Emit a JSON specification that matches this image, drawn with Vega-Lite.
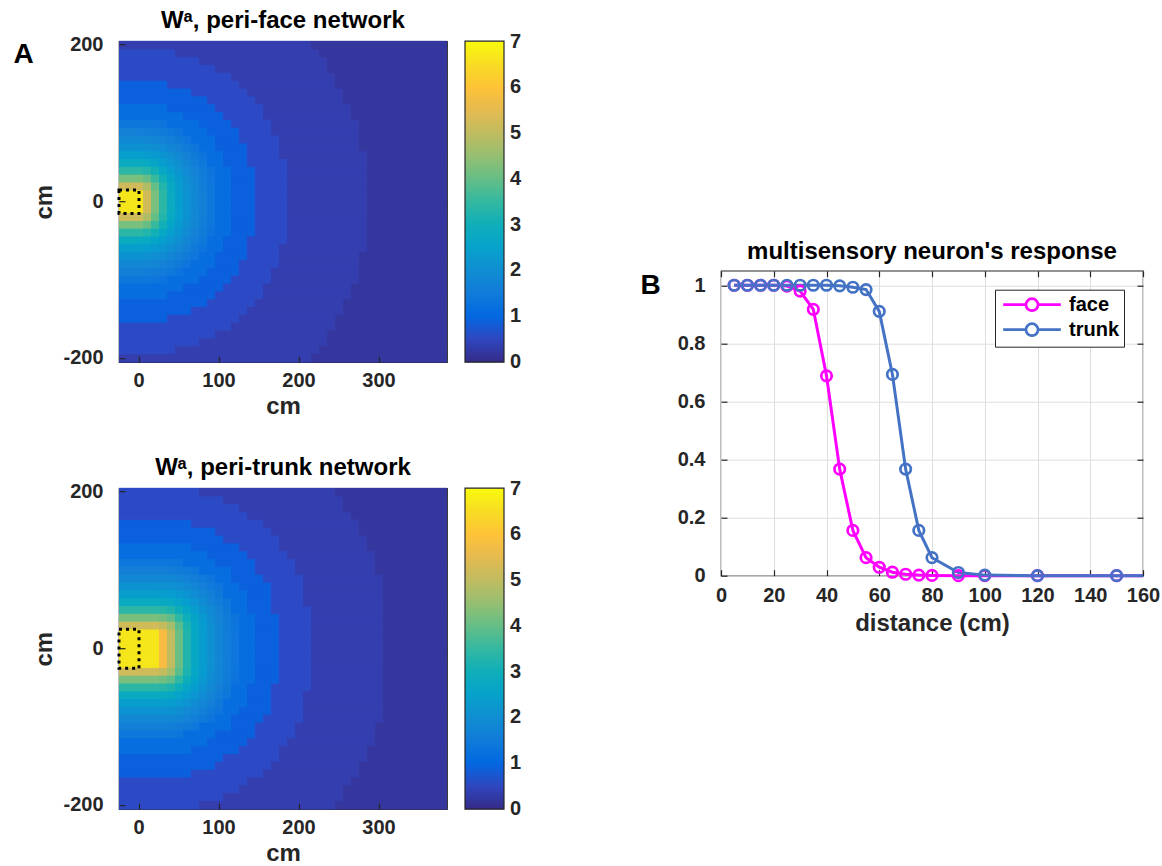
{
"$schema": "https://vega.github.io/schema/vega-lite/v6.json",
"background": "white",
"padding": {"left": 12, "top": 8, "right": 4, "bottom": 2},
"config": {
  "font": "Liberation Sans",
  "view": {"stroke": "#262626", "strokeWidth": 1.2},
  "axis": {"labelFont": "Liberation Sans", "labelFontSize": 20, "labelFontWeight": "bold", "labelColor": "#262626", "titleFont": "Liberation Sans", "titleFontSize": 24, "titleFontWeight": "bold", "titleColor": "#262626", "domain": false, "tickSize": -6, "tickColor": "#262626", "tickWidth": 1.2, "grid": false, "labelAngle": 0, "labelFlush": false},
  "title": {"font": "Liberation Sans", "fontSize": 24, "fontWeight": "bold", "color": "#000000", "anchor": "middle", "baseline": "alphabetic"},
  "legend": {"labelFont": "Liberation Sans", "labelFontWeight": "bold", "labelColor": "#262626"}
},
"center": true,
"spacing": 116,
"resolve": {"scale": {"color": "independent"}, "legend": {"color": "independent"}},
"hconcat": [
{
  "spacing": 35,
  "resolve": {"scale": {"color": "independent"}, "legend": {"color": "independent"}},
  "vconcat": [
  {
    "width": 328, "height": 321,
    "title": {"text": "Wᵃ, peri-face network", "offset": 2},
    "layer": [
    {
      "data": {"values": [
{"y":[-10,0,10],"x":[-20,-10,0,10,20,30,40,50,60,70,80,90,100,110,120,130,140,150,160,170,180,190,200,210,220,230,240,250,260,270,280,290,300,310,320,330,340,350,360,370,380],"v":[6.7,6.7,6.7,5.2,4.2,3.4,2.8,2.4,2.1,1.85,1.6,1.4,1.15,1.15,0.85,0.85,0.85,0.55,0.55,0.55,0.55,0.35,0.35,0.35,0.35,0.35,0.35,0.35,0.35,0.35,0.35,0.2,0.2,0.2,0.2,0.2,0.2,0.2,0.2,0.2,0.2]},
{"y":[-20,20],"x":[-20,-10,0,10,20,30,40,50,60,70,80,90,100,110,120,130,140,150,160,170,180,190,200,210,220,230,240,250,260,270,280,290,300,310,320,330,340,350,360,370,380],"v":[5.2,5.2,5.2,4.8,4.0,3.3,2.75,2.37,2.08,1.83,1.59,1.39,1.15,1.15,0.85,0.85,0.85,0.55,0.55,0.55,0.55,0.35,0.35,0.35,0.35,0.35,0.35,0.35,0.35,0.35,0.35,0.2,0.2,0.2,0.2,0.2,0.2,0.2,0.2,0.2,0.2]},
{"y":[-30,30],"x":[-20,-10,0,10,20,30,40,50,60,70,80,90,100,110,120,130,140,150,160,170,180,190,200,210,220,230,240,250,260,270,280,290,300,310,320,330,340,350,360,370,380],"v":[4.2,4.2,4.2,4.01,3.54,3.04,2.61,2.28,2.02,1.78,1.55,1.36,1.15,1.15,0.85,0.85,0.85,0.55,0.55,0.55,0.55,0.35,0.35,0.35,0.35,0.35,0.35,0.35,0.35,0.35,0.35,0.2,0.2,0.2,0.2,0.2,0.2,0.2,0.2,0.2,0.2]},
{"y":[-40,40],"x":[-20,-10,0,10,20,30,40,50,60,70,80,90,100,110,120,130,140,150,160,170,180,190,200,210,220,230,240,250,260,270,280,290,300,310,320,330,340,350,360,370,380],"v":[3.4,3.4,3.4,3.3,3.04,2.7,2.4,2.15,1.92,1.7,1.49,1.3,1.15,1.15,0.85,0.85,0.85,0.55,0.55,0.55,0.55,0.35,0.35,0.35,0.35,0.35,0.35,0.35,0.35,0.35,0.35,0.2,0.2,0.2,0.2,0.2,0.2,0.2,0.2,0.2,0.2]},
{"y":[-50,50],"x":[-20,-10,0,10,20,30,40,50,60,70,80,90,100,110,120,130,140,150,160,170,180,190,200,210,220,230,240,250,260,270,280,290,300,310,320,330,340,350,360,370,380],"v":[2.8,2.8,2.8,2.75,2.61,2.4,2.2,2.0,1.8,1.59,1.41,1.15,1.15,0.85,0.85,0.85,0.55,0.55,0.55,0.55,0.55,0.35,0.35,0.35,0.35,0.35,0.35,0.35,0.35,0.35,0.35,0.2,0.2,0.2,0.2,0.2,0.2,0.2,0.2,0.2,0.2]},
{"y":[-60,60],"x":[-20,-10,0,10,20,30,40,50,60,70,80,90,100,110,120,130,140,150,160,170,180,190,200,210,220,230,240,250,260,270,280,290,300,310,320,330,340,350,360,370,380],"v":[2.4,2.4,2.4,2.37,2.28,2.15,2.0,1.83,1.65,1.48,1.31,1.15,1.15,0.85,0.85,0.85,0.55,0.55,0.55,0.55,0.35,0.35,0.35,0.35,0.35,0.35,0.35,0.35,0.35,0.35,0.35,0.2,0.2,0.2,0.2,0.2,0.2,0.2,0.2,0.2,0.2]},
{"y":[-70,70],"x":[-20,-10,0,10,20,30,40,50,60,70,80,90,100,110,120,130,140,150,160,170,180,190,200,210,220,230,240,250,260,270,280,290,300,310,320,330,340,350,360,370,380],"v":[2.1,2.1,2.1,2.08,2.02,1.92,1.8,1.65,1.5,1.36,1.15,1.15,0.85,0.85,0.85,0.85,0.55,0.55,0.55,0.55,0.35,0.35,0.35,0.35,0.35,0.35,0.35,0.35,0.35,0.35,0.2,0.2,0.2,0.2,0.2,0.2,0.2,0.2,0.2,0.2,0.2]},
{"y":[-80,80],"x":[-20,-10,0,10,20,30,40,50,60,70,80,90,100,110,120,130,140,150,160,170,180,190,200,210,220,230,240,250,260,270,280,290,300,310,320,330,340,350,360,370,380],"v":[1.85,1.85,1.85,1.83,1.78,1.7,1.59,1.48,1.36,1.15,1.15,1.15,0.85,0.85,0.85,0.55,0.55,0.55,0.55,0.55,0.35,0.35,0.35,0.35,0.35,0.35,0.35,0.35,0.35,0.35,0.2,0.2,0.2,0.2,0.2,0.2,0.2,0.2,0.2,0.2,0.2]},
{"y":[-90,90],"x":[-20,-10,0,10,20,30,40,50,60,70,80,90,100,110,120,130,140,150,160,170,180,190,200,210,220,230,240,250,260,270,280,290,300,310,320,330,340,350,360,370,380],"v":[1.6,1.6,1.6,1.59,1.55,1.49,1.41,1.31,1.15,1.15,1.15,0.85,0.85,0.85,0.85,0.55,0.55,0.55,0.55,0.35,0.35,0.35,0.35,0.35,0.35,0.35,0.35,0.35,0.35,0.35,0.2,0.2,0.2,0.2,0.2,0.2,0.2,0.2,0.2,0.2,0.2]},
{"y":[-100,100],"x":[-20,-10,0,10,20,30,40,50,60,70,80,90,100,110,120,130,140,150,160,170,180,190,200,210,220,230,240,250,260,270,280,290,300,310,320,330,340,350,360,370,380],"v":[1.4,1.4,1.4,1.39,1.36,1.3,1.15,1.15,1.15,1.15,0.85,0.85,0.85,0.85,0.55,0.55,0.55,0.55,0.55,0.35,0.35,0.35,0.35,0.35,0.35,0.35,0.35,0.35,0.35,0.35,0.2,0.2,0.2,0.2,0.2,0.2,0.2,0.2,0.2,0.2,0.2]},
{"y":[-110,110],"x":[-20,-10,0,10,20,30,40,50,60,70,80,90,100,110,120,130,140,150,160,170,180,190,200,210,220,230,240,250,260,270,280,290,300,310,320,330,340,350,360,370,380],"v":[1.15,1.15,1.15,1.15,1.15,1.15,1.15,1.15,0.85,0.85,0.85,0.85,0.85,0.55,0.55,0.55,0.55,0.55,0.35,0.35,0.35,0.35,0.35,0.35,0.35,0.35,0.35,0.35,0.35,0.2,0.2,0.2,0.2,0.2,0.2,0.2,0.2,0.2,0.2,0.2,0.2]},
{"y":[-120,120],"x":[-20,-10,0,10,20,30,40,50,60,70,80,90,100,110,120,130,140,150,160,170,180,190,200,210,220,230,240,250,260,270,280,290,300,310,320,330,340,350,360,370,380],"v":[1.15,1.15,1.15,1.15,1.15,1.15,0.85,0.85,0.85,0.85,0.85,0.85,0.55,0.55,0.55,0.55,0.55,0.55,0.35,0.35,0.35,0.35,0.35,0.35,0.35,0.35,0.35,0.35,0.35,0.2,0.2,0.2,0.2,0.2,0.2,0.2,0.2,0.2,0.2,0.2,0.2]},
{"y":[-130,130],"x":[-20,-10,0,10,20,30,40,50,60,70,80,90,100,110,120,130,140,150,160,170,180,190,200,210,220,230,240,250,260,270,280,290,300,310,320,330,340,350,360,370,380],"v":[0.85,0.85,0.85,0.85,0.85,0.85,0.85,0.85,0.85,0.85,0.85,0.55,0.55,0.55,0.55,0.55,0.55,0.35,0.35,0.35,0.35,0.35,0.35,0.35,0.35,0.35,0.35,0.35,0.2,0.2,0.2,0.2,0.2,0.2,0.2,0.2,0.2,0.2,0.2,0.2,0.2]},
{"y":[-140,140],"x":[-20,-10,0,10,20,30,40,50,60,70,80,90,100,110,120,130,140,150,160,170,180,190,200,210,220,230,240,250,260,270,280,290,300,310,320,330,340,350,360,370,380],"v":[0.85,0.85,0.85,0.85,0.85,0.85,0.85,0.85,0.85,0.55,0.55,0.55,0.55,0.55,0.55,0.55,0.35,0.35,0.35,0.35,0.35,0.35,0.35,0.35,0.35,0.35,0.35,0.35,0.2,0.2,0.2,0.2,0.2,0.2,0.2,0.2,0.2,0.2,0.2,0.2,0.2]},
{"y":[-150,150],"x":[-20,-10,0,10,20,30,40,50,60,70,80,90,100,110,120,130,140,150,160,170,180,190,200,210,220,230,240,250,260,270,280,290,300,310,320,330,340,350,360,370,380],"v":[0.85,0.85,0.85,0.85,0.85,0.85,0.55,0.55,0.55,0.55,0.55,0.55,0.55,0.55,0.55,0.35,0.35,0.35,0.35,0.35,0.35,0.35,0.35,0.35,0.35,0.35,0.35,0.2,0.2,0.2,0.2,0.2,0.2,0.2,0.2,0.2,0.2,0.2,0.2,0.2,0.2]},
{"y":[-160,160],"x":[-20,-10,0,10,20,30,40,50,60,70,80,90,100,110,120,130,140,150,160,170,180,190,200,210,220,230,240,250,260,270,280,290,300,310,320,330,340,350,360,370,380],"v":[0.55,0.55,0.55,0.55,0.55,0.55,0.55,0.55,0.55,0.55,0.55,0.55,0.55,0.55,0.35,0.35,0.35,0.35,0.35,0.35,0.35,0.35,0.35,0.35,0.35,0.35,0.35,0.2,0.2,0.2,0.2,0.2,0.2,0.2,0.2,0.2,0.2,0.2,0.2,0.2,0.2]},
{"y":[-170,170],"x":[-20,-10,0,10,20,30,40,50,60,70,80,90,100,110,120,130,140,150,160,170,180,190,200,210,220,230,240,250,260,270,280,290,300,310,320,330,340,350,360,370,380],"v":[0.55,0.55,0.55,0.55,0.55,0.55,0.55,0.55,0.55,0.55,0.55,0.55,0.35,0.35,0.35,0.35,0.35,0.35,0.35,0.35,0.35,0.35,0.35,0.35,0.35,0.35,0.2,0.2,0.2,0.2,0.2,0.2,0.2,0.2,0.2,0.2,0.2,0.2,0.2,0.2,0.2]},
{"y":[-180,180],"x":[-20,-10,0,10,20,30,40,50,60,70,80,90,100,110,120,130,140,150,160,170,180,190,200,210,220,230,240,250,260,270,280,290,300,310,320,330,340,350,360,370,380],"v":[0.55,0.55,0.55,0.55,0.55,0.55,0.55,0.55,0.55,0.55,0.35,0.35,0.35,0.35,0.35,0.35,0.35,0.35,0.35,0.35,0.35,0.35,0.35,0.35,0.35,0.35,0.2,0.2,0.2,0.2,0.2,0.2,0.2,0.2,0.2,0.2,0.2,0.2,0.2,0.2,0.2]},
{"y":[-190,190],"x":[-20,-10,0,10,20,30,40,50,60,70,80,90,100,110,120,130,140,150,160,170,180,190,200,210,220,230,240,250,260,270,280,290,300,310,320,330,340,350,360,370,380],"v":[0.55,0.55,0.55,0.55,0.55,0.55,0.55,0.35,0.35,0.35,0.35,0.35,0.35,0.35,0.35,0.35,0.35,0.35,0.35,0.35,0.35,0.35,0.35,0.35,0.35,0.2,0.2,0.2,0.2,0.2,0.2,0.2,0.2,0.2,0.2,0.2,0.2,0.2,0.2,0.2,0.2]},
{"y":[-200,200],"x":[-20,-10,0,10,20,30,40,50,60,70,80,90,100,110,120,130,140,150,160,170,180,190,200,210,220,230,240,250,260,270,280,290,300,310,320,330,340,350,360,370,380],"v":[0.35,0.35,0.35,0.35,0.35,0.35,0.35,0.35,0.35,0.35,0.35,0.35,0.35,0.35,0.35,0.35,0.35,0.35,0.35,0.35,0.35,0.35,0.35,0.35,0.2,0.2,0.2,0.2,0.2,0.2,0.2,0.2,0.2,0.2,0.2,0.2,0.2,0.2,0.2,0.2,0.2]}
      ]},
      "transform": [{"flatten": ["x", "v"]}, {"flatten": ["y"]}],
      "mark": {"type": "rect", "height": {"band": 1.1}},
      "encoding": {
        "x": {"field": "x", "type": "ordinal", "scale": {"paddingInner": 0, "paddingOuter": 0}, "axis": {"values": [0, 100, 200, 300], "title": "cm", "labelPadding": 14, "titlePadding": 4}},
        "y": {"field": "y", "type": "ordinal", "sort": "descending", "scale": {"paddingInner": 0, "paddingOuter": 0}, "axis": {"values": [200, 0, -200], "title": "cm", "labelPadding": 22, "titlePadding": 6}},
        "color": {"field": "v", "type": "quantitative", "scale": {"interpolate": "rgb", "domain": [-0.01,0.3333,0.5556,0.7778,1,1.3333,1.6667,2,2.3333,2.6667,3,3.3333,3.6667,4,4.3333,4.6667,5,5.3333,5.6667,5.8889,6.1111,6.3333,6.6667,7.01], "range": ["#352a87","#353dad","#2c4ac7","#0f5cdd","#0268e1","#0d75dc","#1481d6","#108ed2","#079ccf","#06a7c6","#0faeb9","#25b5a9","#42bb98","#65be86","#87bf77","#a5be6b","#c0bc60","#d9ba56","#f1b94a","#fdbe3d","#fec832","#fad32a","#f5e41d","#f9fb0e"]},
          "legend": {"type": "gradient", "title": null, "orient": "right", "offset": 17, "direction": "vertical", "gradientLength": 321, "gradientThickness": 39, "values": [0,1,2,3,4,5,6,7], "labelFontSize": 20, "labelFontWeight": "bold", "labelOffset": 6, "labelBaseline": "middle", "labelOverlap": false, "gradientStrokeColor": "#262626", "gradientStrokeWidth": 1.2}}
      }
    },
    {
      "data": {"values": [{"x1": -25, "x2": 0, "y1": -15, "y2": 15}]},
      "mark": {"type": "rect", "filled": false, "stroke": "#000000", "strokeWidth": 3, "strokeDash": [3, 4]},
      "encoding": {
        "x": {"field": "x1", "type": "quantitative", "scale": {"domain": [-25, 385], "nice": false, "zero": false}, "axis": {"orient": "top", "values": [0, 100, 200, 300], "labels": false, "title": "A", "titleFontSize": 28, "titleAngle": 0, "titleX": -106, "titleY": 21, "titleAlign": "left", "titleBaseline": "alphabetic", "titleColor": "#000000"}},
        "x2": {"field": "x2"},
        "y": {"field": "y1", "type": "quantitative", "scale": {"domain": [-205, 205], "nice": false, "zero": false}, "axis": {"orient": "right", "values": [-200, 0, 200], "labels": false, "title": null}},
        "y2": {"field": "y2"}
      }
    }
    ],
    "resolve": {"scale": {"x": "independent", "y": "independent"}}
  },
  {
    "width": 328, "height": 321,
    "title": {"text": "Wᵃ, peri-trunk network", "offset": 2},
    "layer": [
    {
      "data": {"values": [
{"y":[-20,-10,0,10,20],"x":[-20,-10,0,10,20,30,40,50,60,70,80,90,100,110,120,130,140,150,160,170,180,190,200,210,220,230,240,250,260,270,280,290,300,310,320,330,340,350,360,370,380],"v":[6.7,6.7,6.7,6.7,6.7,5.8,5.0,4.04,3.28,2.72,2.34,2.05,1.8,1.56,1.36,1.15,1.15,0.85,0.85,0.85,0.55,0.55,0.55,0.55,0.35,0.35,0.35,0.35,0.35,0.35,0.35,0.35,0.35,0.2,0.2,0.2,0.2,0.2,0.2,0.2,0.2]},
{"y":[-30,30],"x":[-20,-10,0,10,20,30,40,50,60,70,80,90,100,110,120,130,140,150,160,170,180,190,200,210,220,230,240,250,260,270,280,290,300,310,320,330,340,350,360,370,380],"v":[5.2,5.2,5.2,5.2,5.2,5.03,4.64,3.87,3.19,2.67,2.31,2.03,1.78,1.55,1.35,1.15,1.15,0.85,0.85,0.85,0.55,0.55,0.55,0.55,0.35,0.35,0.35,0.35,0.35,0.35,0.35,0.35,0.35,0.2,0.2,0.2,0.2,0.2,0.2,0.2,0.2]},
{"y":[-40,40],"x":[-20,-10,0,10,20,30,40,50,60,70,80,90,100,110,120,130,140,150,160,170,180,190,200,210,220,230,240,250,260,270,280,290,300,310,320,330,340,350,360,370,380],"v":[4.2,4.2,4.2,4.2,4.2,4.13,3.93,3.42,2.94,2.54,2.23,1.97,1.73,1.51,1.32,1.15,1.15,0.85,0.85,0.85,0.55,0.55,0.55,0.55,0.35,0.35,0.35,0.35,0.35,0.35,0.35,0.35,0.35,0.2,0.2,0.2,0.2,0.2,0.2,0.2,0.2]},
{"y":[-50,50],"x":[-20,-10,0,10,20,30,40,50,60,70,80,90,100,110,120,130,140,150,160,170,180,190,200,210,220,230,240,250,260,270,280,290,300,310,320,330,340,350,360,370,380],"v":[3.4,3.4,3.4,3.4,3.4,3.36,3.26,2.97,2.65,2.35,2.1,1.88,1.65,1.45,1.15,1.15,0.85,0.85,0.85,0.55,0.55,0.55,0.55,0.55,0.35,0.35,0.35,0.35,0.35,0.35,0.35,0.35,0.35,0.2,0.2,0.2,0.2,0.2,0.2,0.2,0.2]},
{"y":[-60,60],"x":[-20,-10,0,10,20,30,40,50,60,70,80,90,100,110,120,130,140,150,160,170,180,190,200,210,220,230,240,250,260,270,280,290,300,310,320,330,340,350,360,370,380],"v":[2.8,2.8,2.8,2.8,2.8,2.78,2.73,2.57,2.36,2.16,1.96,1.75,1.55,1.38,1.15,1.15,0.85,0.85,0.85,0.55,0.55,0.55,0.55,0.35,0.35,0.35,0.35,0.35,0.35,0.35,0.35,0.35,0.35,0.2,0.2,0.2,0.2,0.2,0.2,0.2,0.2]},
{"y":[-70,70],"x":[-20,-10,0,10,20,30,40,50,60,70,80,90,100,110,120,130,140,150,160,170,180,190,200,210,220,230,240,250,260,270,280,290,300,310,320,330,340,350,360,370,380],"v":[2.4,2.4,2.4,2.4,2.4,2.39,2.36,2.26,2.12,1.97,1.8,1.61,1.45,1.15,1.15,1.15,0.85,0.85,0.85,0.55,0.55,0.55,0.55,0.35,0.35,0.35,0.35,0.35,0.35,0.35,0.35,0.35,0.35,0.2,0.2,0.2,0.2,0.2,0.2,0.2,0.2]},
{"y":[-80,80],"x":[-20,-10,0,10,20,30,40,50,60,70,80,90,100,110,120,130,140,150,160,170,180,190,200,210,220,230,240,250,260,270,280,290,300,310,320,330,340,350,360,370,380],"v":[2.1,2.1,2.1,2.1,2.1,2.09,2.07,2.0,1.9,1.77,1.61,1.47,1.33,1.15,1.15,0.85,0.85,0.85,0.85,0.55,0.55,0.55,0.55,0.35,0.35,0.35,0.35,0.35,0.35,0.35,0.35,0.35,0.35,0.2,0.2,0.2,0.2,0.2,0.2,0.2,0.2]},
{"y":[-90,90],"x":[-20,-10,0,10,20,30,40,50,60,70,80,90,100,110,120,130,140,150,160,170,180,190,200,210,220,230,240,250,260,270,280,290,300,310,320,330,340,350,360,370,380],"v":[1.85,1.85,1.85,1.85,1.85,1.84,1.82,1.77,1.68,1.57,1.46,1.33,1.15,1.15,0.85,0.85,0.85,0.85,0.55,0.55,0.55,0.55,0.55,0.35,0.35,0.35,0.35,0.35,0.35,0.35,0.35,0.35,0.35,0.2,0.2,0.2,0.2,0.2,0.2,0.2,0.2]},
{"y":[-100,100],"x":[-20,-10,0,10,20,30,40,50,60,70,80,90,100,110,120,130,140,150,160,170,180,190,200,210,220,230,240,250,260,270,280,290,300,310,320,330,340,350,360,370,380],"v":[1.6,1.6,1.6,1.6,1.6,1.6,1.58,1.54,1.48,1.39,1.15,1.15,1.15,1.15,0.85,0.85,0.85,0.55,0.55,0.55,0.55,0.55,0.35,0.35,0.35,0.35,0.35,0.35,0.35,0.35,0.35,0.35,0.2,0.2,0.2,0.2,0.2,0.2,0.2,0.2,0.2]},
{"y":[-110,110],"x":[-20,-10,0,10,20,30,40,50,60,70,80,90,100,110,120,130,140,150,160,170,180,190,200,210,220,230,240,250,260,270,280,290,300,310,320,330,340,350,360,370,380],"v":[1.4,1.4,1.4,1.4,1.4,1.4,1.38,1.35,1.15,1.15,1.15,1.15,0.85,0.85,0.85,0.85,0.85,0.55,0.55,0.55,0.55,0.55,0.35,0.35,0.35,0.35,0.35,0.35,0.35,0.35,0.35,0.35,0.2,0.2,0.2,0.2,0.2,0.2,0.2,0.2,0.2]},
{"y":[-120,120],"x":[-20,-10,0,10,20,30,40,50,60,70,80,90,100,110,120,130,140,150,160,170,180,190,200,210,220,230,240,250,260,270,280,290,300,310,320,330,340,350,360,370,380],"v":[1.15,1.15,1.15,1.15,1.15,1.15,1.15,1.15,1.15,1.15,1.15,0.85,0.85,0.85,0.85,0.85,0.55,0.55,0.55,0.55,0.55,0.35,0.35,0.35,0.35,0.35,0.35,0.35,0.35,0.35,0.35,0.35,0.2,0.2,0.2,0.2,0.2,0.2,0.2,0.2,0.2]},
{"y":[-130,130],"x":[-20,-10,0,10,20,30,40,50,60,70,80,90,100,110,120,130,140,150,160,170,180,190,200,210,220,230,240,250,260,270,280,290,300,310,320,330,340,350,360,370,380],"v":[1.15,1.15,1.15,1.15,1.15,1.15,1.15,1.15,1.15,0.85,0.85,0.85,0.85,0.85,0.85,0.55,0.55,0.55,0.55,0.55,0.35,0.35,0.35,0.35,0.35,0.35,0.35,0.35,0.35,0.35,0.35,0.2,0.2,0.2,0.2,0.2,0.2,0.2,0.2,0.2,0.2]},
{"y":[-140,140],"x":[-20,-10,0,10,20,30,40,50,60,70,80,90,100,110,120,130,140,150,160,170,180,190,200,210,220,230,240,250,260,270,280,290,300,310,320,330,340,350,360,370,380],"v":[0.85,0.85,0.85,0.85,0.85,0.85,0.85,0.85,0.85,0.85,0.85,0.85,0.85,0.55,0.55,0.55,0.55,0.55,0.55,0.55,0.35,0.35,0.35,0.35,0.35,0.35,0.35,0.35,0.35,0.35,0.35,0.2,0.2,0.2,0.2,0.2,0.2,0.2,0.2,0.2,0.2]},
{"y":[-150,150],"x":[-20,-10,0,10,20,30,40,50,60,70,80,90,100,110,120,130,140,150,160,170,180,190,200,210,220,230,240,250,260,270,280,290,300,310,320,330,340,350,360,370,380],"v":[0.85,0.85,0.85,0.85,0.85,0.85,0.85,0.85,0.85,0.85,0.85,0.85,0.55,0.55,0.55,0.55,0.55,0.55,0.55,0.35,0.35,0.35,0.35,0.35,0.35,0.35,0.35,0.35,0.35,0.35,0.2,0.2,0.2,0.2,0.2,0.2,0.2,0.2,0.2,0.2,0.2]},
{"y":[-160,160],"x":[-20,-10,0,10,20,30,40,50,60,70,80,90,100,110,120,130,140,150,160,170,180,190,200,210,220,230,240,250,260,270,280,290,300,310,320,330,340,350,360,370,380],"v":[0.85,0.85,0.85,0.85,0.85,0.85,0.85,0.85,0.85,0.55,0.55,0.55,0.55,0.55,0.55,0.55,0.55,0.55,0.35,0.35,0.35,0.35,0.35,0.35,0.35,0.35,0.35,0.35,0.35,0.35,0.2,0.2,0.2,0.2,0.2,0.2,0.2,0.2,0.2,0.2,0.2]},
{"y":[-170,170],"x":[-20,-10,0,10,20,30,40,50,60,70,80,90,100,110,120,130,140,150,160,170,180,190,200,210,220,230,240,250,260,270,280,290,300,310,320,330,340,350,360,370,380],"v":[0.55,0.55,0.55,0.55,0.55,0.55,0.55,0.55,0.55,0.55,0.55,0.55,0.55,0.55,0.55,0.55,0.35,0.35,0.35,0.35,0.35,0.35,0.35,0.35,0.35,0.35,0.35,0.35,0.35,0.2,0.2,0.2,0.2,0.2,0.2,0.2,0.2,0.2,0.2,0.2,0.2]},
{"y":[-180,180],"x":[-20,-10,0,10,20,30,40,50,60,70,80,90,100,110,120,130,140,150,160,170,180,190,200,210,220,230,240,250,260,270,280,290,300,310,320,330,340,350,360,370,380],"v":[0.55,0.55,0.55,0.55,0.55,0.55,0.55,0.55,0.55,0.55,0.55,0.55,0.55,0.55,0.55,0.35,0.35,0.35,0.35,0.35,0.35,0.35,0.35,0.35,0.35,0.35,0.35,0.35,0.2,0.2,0.2,0.2,0.2,0.2,0.2,0.2,0.2,0.2,0.2,0.2,0.2]},
{"y":[-190,190],"x":[-20,-10,0,10,20,30,40,50,60,70,80,90,100,110,120,130,140,150,160,170,180,190,200,210,220,230,240,250,260,270,280,290,300,310,320,330,340,350,360,370,380],"v":[0.55,0.55,0.55,0.55,0.55,0.55,0.55,0.55,0.55,0.55,0.55,0.55,0.55,0.35,0.35,0.35,0.35,0.35,0.35,0.35,0.35,0.35,0.35,0.35,0.35,0.35,0.35,0.35,0.2,0.2,0.2,0.2,0.2,0.2,0.2,0.2,0.2,0.2,0.2,0.2,0.2]},
{"y":[-200,200],"x":[-20,-10,0,10,20,30,40,50,60,70,80,90,100,110,120,130,140,150,160,170,180,190,200,210,220,230,240,250,260,270,280,290,300,310,320,330,340,350,360,370,380],"v":[0.55,0.55,0.55,0.55,0.55,0.55,0.55,0.55,0.55,0.55,0.35,0.35,0.35,0.35,0.35,0.35,0.35,0.35,0.35,0.35,0.35,0.35,0.35,0.35,0.35,0.35,0.35,0.2,0.2,0.2,0.2,0.2,0.2,0.2,0.2,0.2,0.2,0.2,0.2,0.2,0.2]}
      ]},
      "transform": [{"flatten": ["x", "v"]}, {"flatten": ["y"]}],
      "mark": {"type": "rect", "height": {"band": 1.1}},
      "encoding": {
        "x": {"field": "x", "type": "ordinal", "scale": {"paddingInner": 0, "paddingOuter": 0}, "axis": {"values": [0, 100, 200, 300], "title": "cm", "labelPadding": 14, "titlePadding": 4}},
        "y": {"field": "y", "type": "ordinal", "sort": "descending", "scale": {"paddingInner": 0, "paddingOuter": 0}, "axis": {"values": [200, 0, -200], "title": "cm", "labelPadding": 22, "titlePadding": 6}},
        "color": {"field": "v", "type": "quantitative", "scale": {"interpolate": "rgb", "domain": [-0.01,0.3333,0.5556,0.7778,1,1.3333,1.6667,2,2.3333,2.6667,3,3.3333,3.6667,4,4.3333,4.6667,5,5.3333,5.6667,5.8889,6.1111,6.3333,6.6667,7.01], "range": ["#352a87","#353dad","#2c4ac7","#0f5cdd","#0268e1","#0d75dc","#1481d6","#108ed2","#079ccf","#06a7c6","#0faeb9","#25b5a9","#42bb98","#65be86","#87bf77","#a5be6b","#c0bc60","#d9ba56","#f1b94a","#fdbe3d","#fec832","#fad32a","#f5e41d","#f9fb0e"]},
          "legend": {"type": "gradient", "title": null, "orient": "right", "offset": 17, "direction": "vertical", "gradientLength": 321, "gradientThickness": 39, "values": [0,1,2,3,4,5,6,7], "labelFontSize": 20, "labelFontWeight": "bold", "labelOffset": 6, "labelBaseline": "middle", "labelOverlap": false, "gradientStrokeColor": "#262626", "gradientStrokeWidth": 1.2}}
      }
    },
    {
      "data": {"values": [{"x1": -25, "x2": 0, "y1": -25, "y2": 25}]},
      "mark": {"type": "rect", "filled": false, "stroke": "#000000", "strokeWidth": 3, "strokeDash": [3, 4]},
      "encoding": {
        "x": {"field": "x1", "type": "quantitative", "scale": {"domain": [-25, 385], "nice": false, "zero": false}, "axis": {"orient": "top", "values": [0, 100, 200, 300], "labels": false, "title": null}},
        "x2": {"field": "x2"},
        "y": {"field": "y1", "type": "quantitative", "scale": {"domain": [-205, 205], "nice": false, "zero": false}, "axis": {"orient": "right", "values": [-200, 0, 200], "labels": false, "title": null}},
        "y2": {"field": "y2"}
      }
    }
    ],
    "resolve": {"scale": {"x": "independent", "y": "independent"}}
  }
  ]
},
{
  "width": 422, "height": 305,
  "title": {"text": "multisensory neuron's response", "offset": 6},
  "data": {"values": [
    {"d":5,"r":1,"s":"face"},{"d":10,"r":1,"s":"face"},{"d":15,"r":1,"s":"face"},{"d":20,"r":1,"s":"face"},{"d":25,"r":0.997,"s":"face"},{"d":30,"r":0.98,"s":"face"},{"d":35,"r":0.917,"s":"face"},{"d":40,"r":0.688,"s":"face"},{"d":45,"r":0.367,"s":"face"},{"d":50,"r":0.156,"s":"face"},{"d":55,"r":0.062,"s":"face"},{"d":60,"r":0.029,"s":"face"},{"d":65,"r":0.012,"s":"face"},{"d":70,"r":0.005,"s":"face"},{"d":75,"r":0.002,"s":"face"},{"d":80,"r":0.001,"s":"face"},{"d":90,"r":0,"s":"face"},{"d":100,"r":0,"s":"face"},{"d":120,"r":0,"s":"face"},{"d":150,"r":0,"s":"face"},{"d":160,"r":0,"s":"face"},
    {"d":5,"r":1,"s":"trunk"},{"d":10,"r":1,"s":"trunk"},{"d":15,"r":1,"s":"trunk"},{"d":20,"r":1,"s":"trunk"},{"d":25,"r":1,"s":"trunk"},{"d":30,"r":1,"s":"trunk"},{"d":35,"r":1,"s":"trunk"},{"d":40,"r":1,"s":"trunk"},{"d":45,"r":0.998,"s":"trunk"},{"d":50,"r":0.993,"s":"trunk"},{"d":55,"r":0.985,"s":"trunk"},{"d":60,"r":0.91,"s":"trunk"},{"d":65,"r":0.693,"s":"trunk"},{"d":70,"r":0.367,"s":"trunk"},{"d":75,"r":0.156,"s":"trunk"},{"d":80,"r":0.062,"s":"trunk"},{"d":90,"r":0.011,"s":"trunk"},{"d":100,"r":0.002,"s":"trunk"},{"d":120,"r":0,"s":"trunk"},{"d":150,"r":0,"s":"trunk"},{"d":160,"r":0,"s":"trunk"}
  ]},
  "layer": [
    {
      "mark": {"type": "line", "strokeWidth": 3},
      "encoding": {
        "x": {"field": "d", "type": "quantitative", "scale": {"domain": [0, 160], "nice": false, "zero": false}, "axis": {"values": [0,20,40,60,80,100,120,140,160], "title": "distance (cm)", "grid": true, "gridColor": "#dedede", "gridWidth": 1, "labelPadding": 16, "titlePadding": 6, "labelFlush": false}},
        "y": {"field": "r", "type": "quantitative", "scale": {"domain": [0, 1.05], "nice": false, "zero": false}, "axis": {"values": [0,0.2,0.4,0.6,0.8,1], "format": "~g", "grid": true, "gridColor": "#dedede", "gridWidth": 1, "labelPadding": 22, "title": "B", "titleFontSize": 28, "titleAngle": 0, "titleX": -81, "titleY": 23, "titleAlign": "left", "titleBaseline": "alphabetic", "titleColor": "#000000"}},
        "color": {"field": "s", "type": "nominal", "scale": {"domain": ["face", "trunk"], "range": ["#ff00ff", "#4472c4"]},
          "legend": {"title": null, "orient": "top-right", "offset": 19, "labelFontSize": 20, "labelFontWeight": "bold", "labelColor": "#000000", "strokeColor": "#262626", "fillColor": "white", "padding": 5, "rowPadding": 1, "symbolType": "M-4.8,0H-1M1,0H4.8M1,0A1,1 0 1,1 -1,0A1,1 0 1,1 1,0", "symbolSize": 144, "symbolStrokeWidth": 2.7, "symbolOffset": 22, "labelOffset": 27, "symbolFillColor": "transparent"}}
      }
    },
    {
      "transform": [{"filter": "datum.d <= 150"}],
      "mark": {"type": "point", "filled": false, "size": 110, "strokeWidth": 2.7, "opacity": 1},
      "encoding": {
        "x": {"field": "d", "type": "quantitative", "axis": {"orient": "top", "values": [0,20,40,60,80,100,120,140,160], "labels": false, "title": null}},
        "y": {"field": "r", "type": "quantitative", "axis": {"orient": "right", "values": [0,0.2,0.4,0.6,0.8,1], "labels": false, "title": null}},
        "color": {"field": "s", "type": "nominal"}
      }
    }
  ],
  "resolve": {"axis": {"x": "independent", "y": "independent"}}
}
]
}
